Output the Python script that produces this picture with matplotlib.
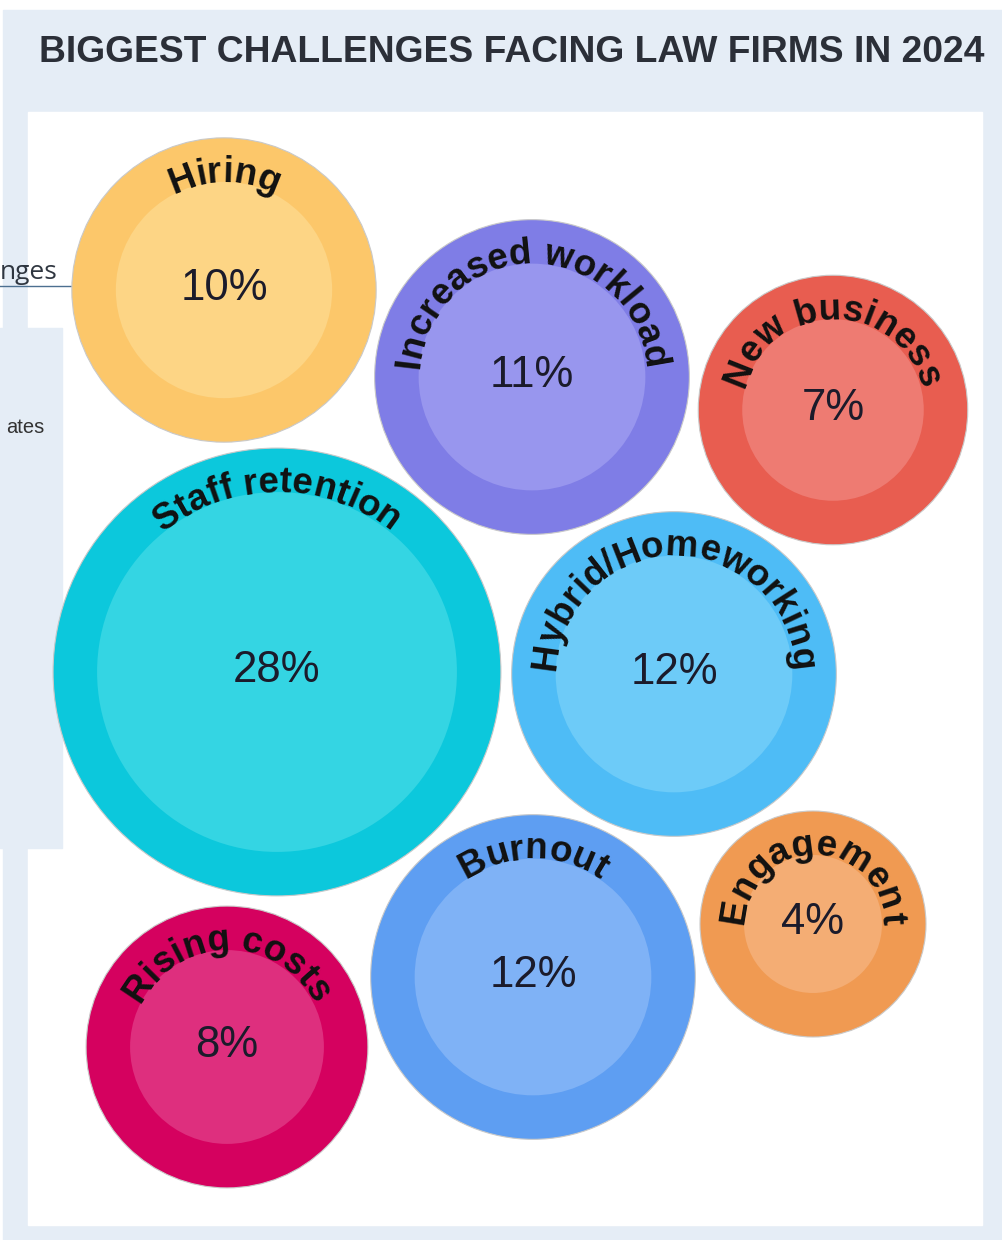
import numpy as np
import matplotlib
matplotlib.use('Agg')
import matplotlib.pyplot as plt
from matplotlib.patches import Circle, Rectangle
from matplotlib.font_manager import FontProperties, findfont, get_font

# challenge data (share of firms, %)
labels = ['Hiring', 'Increased workload', 'New business', 'Staff retention',
          'Hybrid/Homeworking', 'Burnout', 'Engagement', 'Rising costs']
values = [10, 11, 7, 28, 12, 12, 4, 8]

# packed bubble layout (pixel space of the 1002x1240 canvas)
centers_x = [224, 532, 833, 277, 674, 533, 813, 227]
centers_y = [290, 377, 410, 672, 674, 977, 924, 1047]

outer_colors = ['#fcc76a', '#7f7de6', '#e85d50', '#0cc8dc',
                '#4ebcf6', '#5e9ef2', '#f09a52', '#d5015f']
inner_colors = ['#fdd585', '#9896ee', '#ee7b72', '#34d5e3',
                '#6dcbf8', '#7fb2f6', '#f4ad74', '#de2f7e']

W, H = 1002, 1240
DPI = 100
RING = 44


def bubble_radius(v):
    return 45.6 + 33.7 * np.sqrt(v)


def arc_text(ax, text, cx, cy, r, size, track=0.99):
    prop = FontProperties(family='Liberation Sans', weight='bold', size=size)
    font = get_font(findfont(prop))
    font.set_size(size, DPI)
    advs = [font.load_char(ord(ch)).linearHoriAdvance / 65536 * track for ch in text]
    s = -sum(advs) / 2
    for ch, a in zip(text, advs):
        phi = (s + a / 2) / r
        x = cx + r * np.sin(phi)
        y = cy - r * np.cos(phi)
        ax.text(x, y, ch, fontproperties=prop, color='#111111',
                rotation=-np.degrees(phi), rotation_mode='anchor',
                ha='center', va='baseline', zorder=5)
        s += a


def main():
    fig = plt.figure(figsize=(W / DPI, H / DPI), dpi=DPI)
    ax = fig.add_axes([0, 0, 1, 1])
    ax.set_xlim(0, W)
    ax.set_ylim(H, 0)
    ax.axis('off')

    # page background, outer panel, white chart panel
    ax.add_patch(Rectangle((0, 0), W, H, color='white', zorder=0))
    ax.add_patch(Rectangle((3, 10), W - 3, H - 10, color='#e5edf6', zorder=0.5))
    ax.add_patch(Rectangle((28, 112), 954, 1113, color='white', zorder=1))

    ax.text(512, 52, 'BIGGEST CHALLENGES FACING LAW FIRMS IN 2024',
            family='Liberation Sans', weight='bold', fontsize=26.8,
            color='#2b2f38', ha='center', va='center', zorder=2)

    # bits of the page underneath the bubble picture
    ax.text(58, 279, 'nges', family='Open Sans', fontsize=19, color='#2f3640',
            ha='right', va='baseline', zorder=2.5)
    ax.plot([0, 72], [286, 286], color='#4c6f90', lw=1, zorder=2.5)
    ax.add_patch(Rectangle((0, 328), 62, 520, color='#e5edf6', zorder=2))
    ax.text(44, 433, 'ates', family='Liberation Sans', fontsize=14.5,
            color='#333333', ha='right', va='baseline', zorder=2.5)

    for lab, v, cx, cy, oc, ic in zip(labels, values, centers_x, centers_y,
                                      outer_colors, inner_colors):
        R = bubble_radius(v)
        ax.add_patch(Circle((cx, cy), R, facecolor=oc, edgecolor='#c9c9c9',
                            lw=0.8, zorder=3))
        ax.add_patch(Circle((cx, cy), R - RING, facecolor=ic, lw=0, zorder=4))
        arc_text(ax, lab, cx, cy, R - RING, 26.5)
        ax.text(cx, cy + 10, f'{v}%', family='Liberation Sans', fontsize=31.5,
                color='#1b1b2b', ha='center', va='baseline', zorder=5)

    fig.savefig('out.png', dpi=DPI)


if __name__ == '__main__':
    main()
